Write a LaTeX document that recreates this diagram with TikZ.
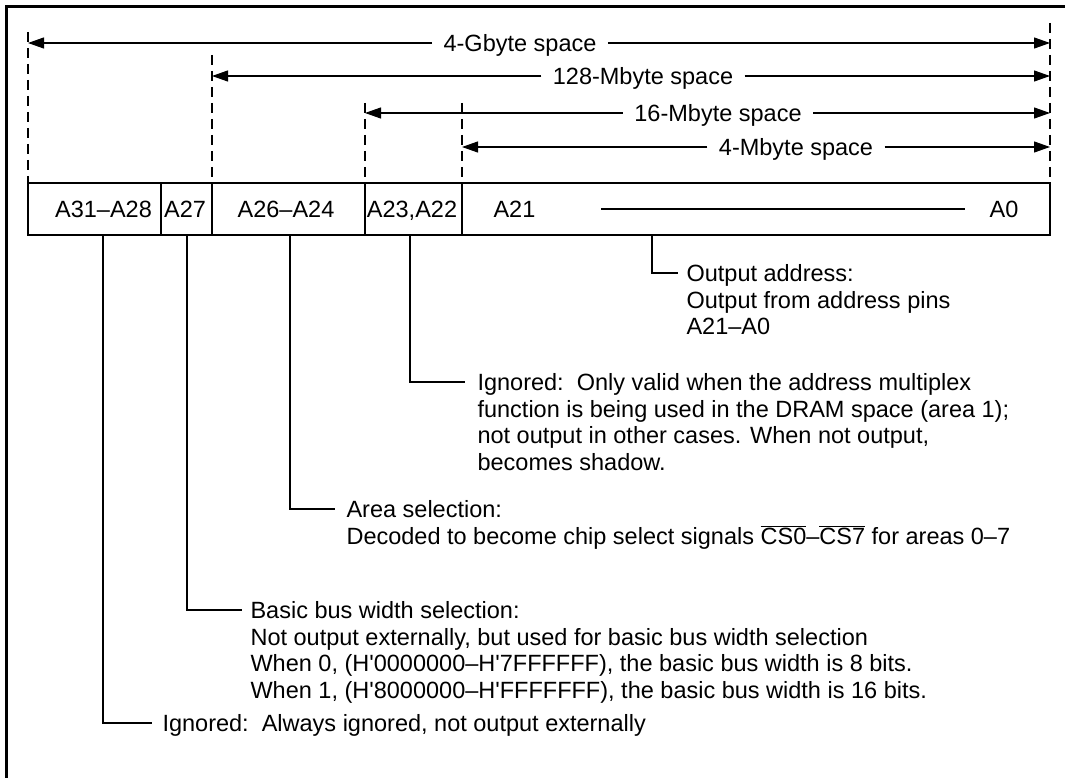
\documentclass[tikz,border=0pt]{standalone}
\usepackage{fontspec}
\setmainfont{Liberation Sans}
\usetikzlibrary{arrows.meta}
\begin{document}
\begin{tikzpicture}[x=1pt,y=-1pt,line width=1.1pt,
  txt/.style={inner sep=0pt,font=\fontsize{23.5}{26.7}\selectfont},
  blk/.style={txt,align=left,anchor=north west},
  lab/.style={txt,text height=16.8pt,text depth=0pt,inner xsep=11pt},
  cellt/.style={txt,text height=16.8pt,text depth=0pt},
  dim/.style={-{Triangle[length=16pt,width=11pt]}},
  guide/.style={dash pattern=on 10pt off 6pt},
  frame/.style={line width=3pt}]
\useasboundingbox (0,0) rectangle (1065,778);
% outer frame
\coordinate (fb) at (6,780);
\coordinate (fc) at (6,7);
\coordinate (fr) at (1067,7);
\draw[frame] (fb) -- (fc) -- (fr);

% guide lines
\coordinate (g0t) at (28,32);   \coordinate (g0b) at (28,183);
\coordinate (g1t) at (212,55);  \coordinate (g1b) at (212,183);
\coordinate (g2t) at (365,103); \coordinate (g2b) at (365,183);
\coordinate (g3t) at (462,103); \coordinate (g3b) at (462,183);
\coordinate (g4t) at (1050,23); \coordinate (g4b) at (1050,183);
\foreach \g in {0,...,4}{\draw[guide] (g\g t) -- (g\g b);}

% dimension arrows
\node[lab] (l4G) at (520,43) {4-Gbyte space};
\coordinate (a4GL) at (28,43); \coordinate (a4GR) at (1050,43);
\draw[dim] (l4G.west) -- (a4GL); \draw[dim] (l4G.east) -- (a4GR);

\node[lab] (l128M) at (643,76) {128-Mbyte space};
\coordinate (a128L) at (212,76); \coordinate (a128R) at (1050,76);
\draw[dim] (l128M.west) -- (a128L); \draw[dim] (l128M.east) -- (a128R);

\node[lab] (l16M) at (718,113) {16-Mbyte space};
\coordinate (a16L) at (365,113); \coordinate (a16R) at (1050,113);
\draw[dim] (l16M.west) -- (a16L); \draw[dim] (l16M.east) -- (a16R);

\node[lab] (l4M) at (796,147) {4-Mbyte space};
\coordinate (a4ML) at (462,147); \coordinate (a4MR) at (1050,147);
\draw[dim] (l4M.west) -- (a4ML); \draw[dim] (l4M.east) -- (a4MR);

% address register box
\coordinate (bx1) at (28,183); \coordinate (bx2) at (1050,235);
\draw (bx1) rectangle (bx2);
\foreach \x in {161,212,365,462}{\draw (\x,183) -- (\x,235);}
\node[cellt] (c1) at (103.5,209) {A31--A28};
\node[cellt] (c2) at (185,209) {A27};
\node[cellt] (c3) at (286,209) {A26--A24};
\node[cellt] (c4) at (412,209) {A23,A22};
\node[cellt,anchor=west] (c5) at (493,209) {A21};
\node[cellt] (c6) at (1004,209) {A0};
\coordinate (r1) at (601,209); \coordinate (r2) at (965,209);
\draw (r1) -- (r2);

% annotations
\coordinate (t5) at (652,235); \coordinate (e5) at (678,273);
\node[blk] (n5) at (686,264) {Output address:\\Output from address pins\\A21--A0};
\draw (t5) |- (e5);

\coordinate (t4) at (410,235); \coordinate (e4) at (465,382);
\node[blk] (n4) at (477,373) {Ignored:\ \ Only valid when the address multiplex\\function is being used in the DRAM space (area 1);\\not output in other cases. When not output,\\becomes shadow.};
\draw (t4) |- (e4);

\coordinate (t3) at (290,235); \coordinate (e3) at (335,509);
\node[blk] (n3) at (346,500) {Area selection:\\Decoded to become chip select signals $\overline{\mbox{CS0}}$--$\overline{\mbox{CS7}}$ for areas 0--7};
\draw (t3) |- (e3);

\coordinate (t2) at (187,235); \coordinate (e2) at (242,610);
\node[blk] (n2) at (250,601) {Basic bus width selection:\\Not output externally, but used for basic bus width selection\\When 0, (H\textquotesingle 0000000--H\textquotesingle 7FFFFFF), the basic bus width is 8 bits.\\When 1, (H\textquotesingle 8000000--H\textquotesingle FFFFFFF), the basic bus width is 16 bits.};
\draw (t2) |- (e2);

\coordinate (t1) at (103,235); \coordinate (e1) at (152,723);
\node[blk] (n1) at (162,714) {Ignored:\ \ Always ignored, not output externally};
\draw (t1) |- (e1);
\end{tikzpicture}
\end{document}
